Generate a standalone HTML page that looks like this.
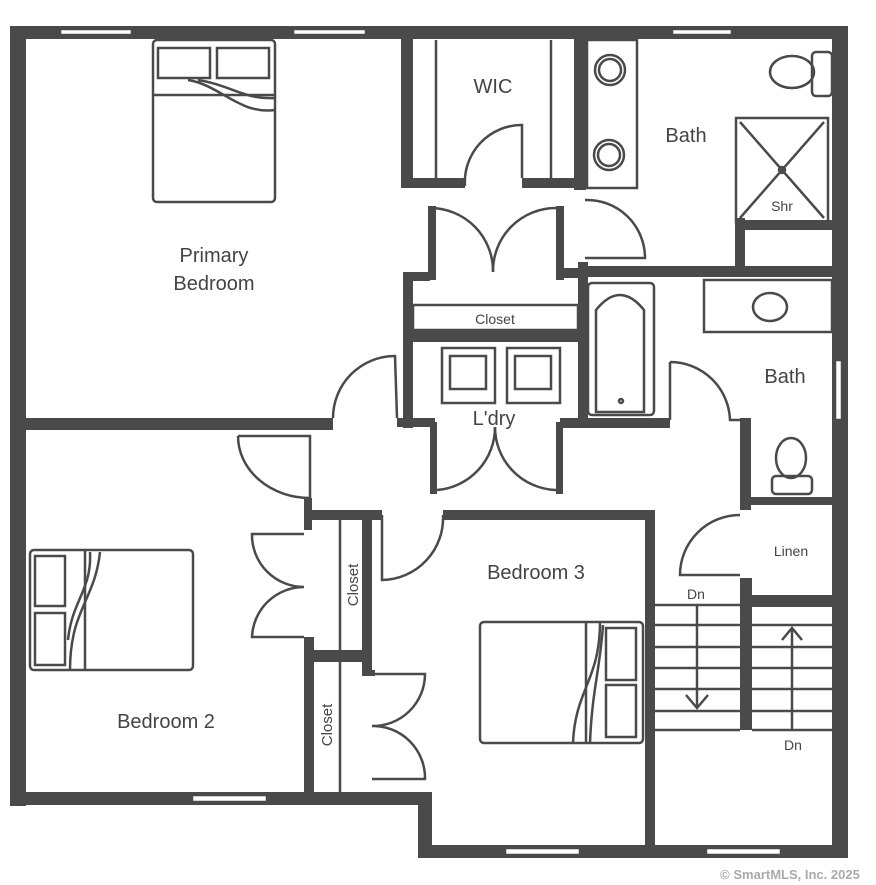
<!DOCTYPE html>
<html><head><style>
html,body{margin:0;padding:0;background:#fff;width:876px;height:885px;overflow:hidden}
svg{display:block}
text{font-family:"Liberation Sans",Arial,sans-serif;fill:#444}
</style></head><body>
<svg width="876" height="885" viewBox="0 0 876 885" xmlns="http://www.w3.org/2000/svg">
<g fill="#4a4a4a" stroke="none">
<rect x="10" y="26" width="838" height="13"/>
<rect x="10" y="26" width="16" height="780"/>
<rect x="832" y="26" width="16" height="832"/>
<rect x="10" y="792" width="422" height="13"/>
<rect x="418" y="792" width="14" height="66"/>
<rect x="418" y="845" width="430" height="13"/>
<rect x="20" y="418" width="313" height="12"/>
<rect x="401" y="38" width="12" height="150"/>
<rect x="401" y="178" width="64" height="10"/>
<rect x="522" y="178" width="64" height="10"/>
<rect x="574" y="38" width="12" height="152"/>
<rect x="403" y="272" width="27" height="9"/>
<rect x="428" y="206" width="8" height="74"/>
<rect x="556" y="206" width="8" height="74"/>
<rect x="556" y="268" width="30" height="10"/>
<rect x="403" y="272" width="10" height="156"/>
<rect x="403" y="330" width="182" height="12"/>
<rect x="578" y="262" width="10" height="160"/>
<rect x="578" y="266" width="260" height="11"/>
<rect x="397" y="418" width="38" height="9"/>
<rect x="560" y="418" width="110" height="10"/>
<rect x="430" y="422" width="7" height="72"/>
<rect x="556" y="422" width="7" height="72"/>
<rect x="735" y="218" width="10" height="52"/>
<rect x="735" y="220" width="100" height="10"/>
<rect x="740" y="418" width="11" height="92"/>
<rect x="740" y="497" width="95" height="8"/>
<rect x="740" y="578" width="12" height="152"/>
<rect x="750" y="595" width="85" height="12"/>
<rect x="443" y="510" width="212" height="10"/>
<rect x="645" y="510" width="10" height="340"/>
<rect x="304" y="498" width="8" height="32"/>
<rect x="304" y="510" width="78" height="10"/>
<rect x="362" y="510" width="10" height="160"/>
<rect x="304" y="637" width="10" height="160"/>
<rect x="304" y="650" width="68" height="12"/>
<rect x="362" y="670" width="13" height="6"/>
<rect x="362" y="585" width="10" height="5"/>
</g>
<g fill="none" stroke="#4a4a4a" stroke-width="2.5">
<rect x="60" y="29" width="72" height="6" fill="#fff"/>
<rect x="293" y="29" width="73" height="6" fill="#fff"/>
<rect x="672" y="29" width="60" height="6" fill="#fff"/>
<rect x="192" y="795" width="75" height="7" fill="#fff"/>
<rect x="505" y="848" width="75" height="7" fill="#fff"/>
<rect x="706" y="848" width="75" height="7" fill="#fff"/>
<rect x="835" y="360" width="7" height="60" fill="#fff"/>
<line x1="436" y1="40" x2="436" y2="178"/>
<line x1="551" y1="40" x2="551" y2="178"/>
<path d="M465 186 A57 57 0 0 1 522 125 L522 178"/>
<path d="M430 208 A63 63 0 0 1 493 272"/>
<path d="M556 208 A63 63 0 0 0 493 272"/>
<rect x="413" y="305" width="165" height="25"/>
<path d="M585 200 A58 58 0 0 1 645 258 L585 258"/>
<path d="M333 418 A62 62 0 0 1 395 356 L397 418"/>
<path d="M437 490 A63 63 0 0 0 495 427"/>
<path d="M556 490 A63 63 0 0 1 495 427"/>
<rect x="442" y="348" width="53" height="55"/>
<rect x="450" y="356" width="36" height="33"/>
<rect x="507" y="348" width="53" height="55"/>
<rect x="515" y="356" width="36" height="33"/>
<path d="M670 362 A60 60 0 0 1 730 420 L740 420"/>
<line x1="670" y1="362" x2="670" y2="420"/>
<path d="M238 436 L310 436 L310 498 A72 62 0 0 1 238 436"/>
<path d="M382 515 L382 580 A62 62 0 0 0 443 515"/>
<line x1="340" y1="520" x2="340" y2="650"/>
<line x1="340" y1="662" x2="340" y2="792"/>
<path d="M304 534 L252 534 A52 52 0 0 0 304 587 A52 52 0 0 0 252 637 L304 637"/>
<path d="M372 674 L425 674 A52 52 0 0 1 372 726 A52 52 0 0 1 425 779 L372 779"/>
<path d="M740 515 A60 60 0 0 0 680 575 L740 575"/>
<path d="M655 605 H740 M655 625 H740 M655 647 H740 M655 668 H740 M655 689 H740 M655 711 H740 M655 730 H740"/>
<path d="M752 625 H832 M752 647 H832 M752 668 H832 M752 689 H832 M752 711 H832 M752 730 H832"/>
<line x1="697" y1="605" x2="697" y2="708"/>
<path d="M686 695 L697 708 L708 695"/>
<line x1="792" y1="628" x2="792" y2="730"/>
<path d="M782 640 L792 628 L802 640"/>
<rect x="153" y="40" width="122" height="162" rx="4"/>
<rect x="158" y="48" width="52" height="30"/>
<rect x="217" y="48" width="52" height="30"/>
<line x1="153" y1="95" x2="275" y2="95"/>
<path d="M188 80 C220 85 240 115 275 110 M198 80 C230 85 245 100 275 98"/>
<rect x="30" y="550" width="163" height="120" rx="4"/>
<rect x="35" y="556" width="30" height="50"/>
<rect x="35" y="613" width="30" height="52"/>
<line x1="85" y1="550" x2="85" y2="670"/>
<path d="M100 552 C95 600 70 610 70 670 M90 552 C92 590 72 600 68 640"/>
<rect x="480" y="622" width="163" height="121" rx="4"/>
<rect x="606" y="628" width="30" height="52"/>
<rect x="606" y="685" width="30" height="52"/>
<line x1="586" y1="622" x2="586" y2="743"/>
<path d="M600 622 C600 680 575 690 573 743 M603 625 C600 670 592 690 590 743"/>
<rect x="587" y="40" width="50" height="148"/>
<circle cx="610" cy="70" r="15"/><circle cx="610" cy="70" r="11"/>
<circle cx="609" cy="155" r="15"/><circle cx="609" cy="155" r="11"/>
<ellipse cx="792" cy="72" rx="22" ry="16"/>
<rect x="812" y="52" width="20" height="44" rx="4"/>
<rect x="736" y="118" width="92" height="104"/>
<path d="M740 122 L824 218 M824 122 L740 218"/>
<circle cx="782" cy="170" r="3"/>
<rect x="588" y="283" width="66" height="132" rx="4"/>
<path d="M596 412 L596 310 Q620 280 644 310 L644 412 Z"/>
<circle cx="621" cy="401" r="2"/>
<rect x="704" y="280" width="128" height="52"/>
<ellipse cx="770" cy="307" rx="17" ry="14"/>
<ellipse cx="791" cy="458" rx="15" ry="20"/>
<rect x="772" y="476" width="40" height="18" rx="4"/>
</g>
<text x="493" y="93" font-size="20" text-anchor="middle">WIC</text>
<text x="686" y="142" font-size="20" text-anchor="middle">Bath</text>
<text x="782" y="211" font-size="14" text-anchor="middle">Shr</text>
<text x="214" y="262" font-size="20" text-anchor="middle">Primary</text>
<text x="214" y="290" font-size="20" text-anchor="middle">Bedroom</text>
<text x="495" y="324" font-size="14" text-anchor="middle">Closet</text>
<text x="494" y="425" font-size="20" text-anchor="middle">L'dry</text>
<text x="785" y="383" font-size="20" text-anchor="middle">Bath</text>
<text x="791" y="556" font-size="14" text-anchor="middle">Linen</text>
<text x="536" y="579" font-size="20" text-anchor="middle">Bedroom 3</text>
<text x="696" y="599" font-size="14" text-anchor="middle">Dn</text>
<text x="793" y="750" font-size="14" text-anchor="middle">Dn</text>
<text x="166" y="728" font-size="20" text-anchor="middle">Bedroom 2</text>
<text transform="translate(358,585) rotate(-90)" font-size="15" text-anchor="middle">Closet</text>
<text transform="translate(332,725) rotate(-90)" font-size="15" text-anchor="middle">Closet</text>
<text x="790" y="879" font-size="13" font-weight="bold" text-anchor="middle" style="fill:#aaa">© SmartMLS, Inc.  2025</text>
</svg>
</body></html>
